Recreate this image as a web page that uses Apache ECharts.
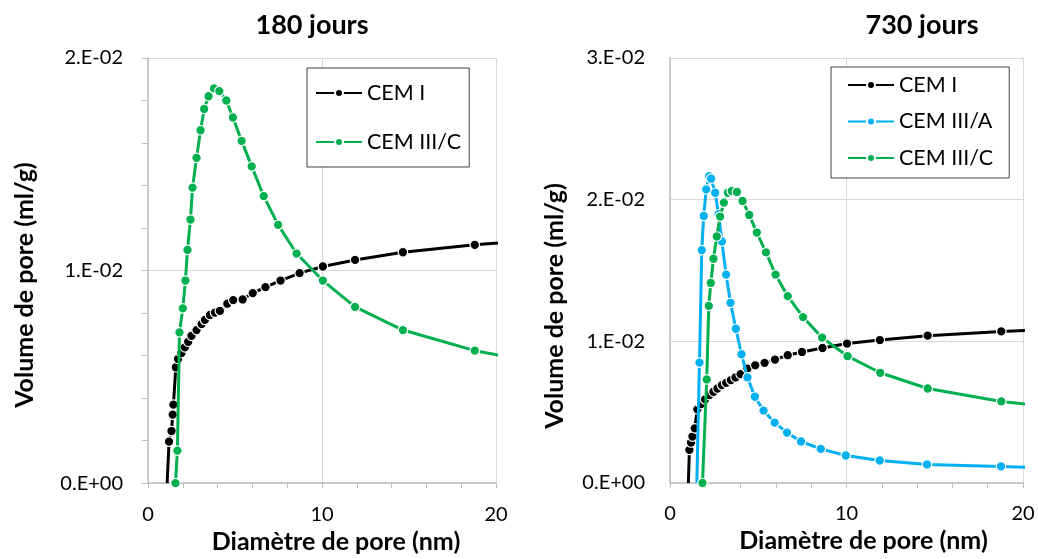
<!DOCTYPE html>
<html>
<head>
<meta charset="utf-8">
<script src="https://cdn.jsdelivr.net/npm/echarts@6/dist/echarts.min.js"></script>
<style>
html,body{margin:0;padding:0;background:#fff;}
#chart{width:1038px;height:559px;}
</style>
</head>
<body>
<div id="chart"></div>
<script>
// ---- Data ----
const titles = ["180 jours", "730 jours"];
const xAxisName = "Diamètre de pore (nm)";
const yAxisName = "Volume de pore (ml/g)";
const xTickLabels = ["0", "10", "20"];
const yTicksLeft = [0, 0.01, 0.02];
const yLabelsLeft = ["0.E+00", "1.E-02", "2.E-02"];
const yTicksRight = [0, 0.01, 0.02, 0.03];
const yLabelsRight = ["0.E+00", "1.E-02", "2.E-02", "3.E-02"];
const seriesNames = ["CEM I", "CEM III/A", "CEM III/C"];

// 180 jours
const left_CEMI = [[1.1,0],[1.21,0.00195],[1.35,0.00245],[1.42,0.00322],[1.46,0.00369],[1.6,0.00545],[1.73,0.00584],[1.92,0.00612],[2.12,0.00639],[2.31,0.00665],[2.5,0.00693],[2.79,0.0072],[3.08,0.00748],[3.27,0.00768],[3.56,0.00791],[3.85,0.00802],[4.13,0.0081],[4.56,0.00844],[4.9,0.00861],[5.44,0.00864],[6.02,0.00894],[6.75,0.00922],[7.62,0.00953],[8.71,0.00988],[10.05,0.01019],[11.9,0.0105],[14.65,0.01086],[18.78,0.01121],[23,0.01147]];
const left_CEMIIIC = [[1.58,0],[1.69,0.00153],[1.81,0.00709],[2.0,0.00822],[2.15,0.00953],[2.27,0.01097],[2.44,0.0124],[2.56,0.0139],[2.79,0.0153],[3.02,0.0166],[3.23,0.0176],[3.48,0.0182],[3.79,0.01857],[4.1,0.01844],[4.5,0.018],[4.88,0.0172],[5.38,0.0161],[5.96,0.0149],[6.65,0.0135],[7.48,0.01215],[8.54,0.0108],[10.05,0.00953],[11.9,0.00829],[14.65,0.0072],[18.78,0.00623],[23,0.0056]];

// 730 jours
const right_CEMI = [[1.04,0],[1.1,0.00234],[1.19,0.00286],[1.27,0.00328],[1.4,0.00386],[1.55,0.0052],[1.76,0.00557],[1.99,0.0059],[2.23,0.00621],[2.46,0.00644],[2.69,0.00667],[2.94,0.00691],[3.18,0.00707],[3.45,0.00726],[3.71,0.00745],[4.0,0.00768],[4.39,0.00808],[4.83,0.00831],[5.36,0.00848],[5.95,0.00871],[6.67,0.00902],[7.48,0.00925],[8.64,0.00953],[10.03,0.00984],[11.89,0.01009],[14.6,0.0104],[18.77,0.0107],[23,0.01091]];
const right_CEMIIIA = [[1.52,0],[1.67,0.0085],[1.8,0.01644],[1.91,0.01885],[2.05,0.02073],[2.22,0.02166],[2.33,0.02148],[2.56,0.02049],[2.75,0.01897],[2.94,0.01705],[3.18,0.01471],[3.43,0.01272],[3.73,0.01089],[4.05,0.00909],[4.39,0.00745],[4.81,0.00609],[5.3,0.00511],[5.93,0.00426],[6.63,0.00356],[7.42,0.00293],[8.54,0.00241],[9.96,0.00194],[11.88,0.00159],[14.56,0.00131],[18.75,0.00117],[23,0.00097]];
const right_CEMIIIC = [[1.84,0],[2.08,0.00731],[2.2,0.0125],[2.31,0.01412],[2.46,0.01583],[2.65,0.0174],[2.84,0.01881],[3.05,0.01979],[3.28,0.02049],[3.5,0.02061],[3.79,0.02054],[4.11,0.01991],[4.49,0.01892],[4.92,0.01768],[5.44,0.01628],[5.98,0.01471],[6.67,0.01319],[7.54,0.01171],[8.62,0.01026],[10.06,0.00895],[11.91,0.00778],[14.6,0.00667],[18.77,0.00576],[23,0.00519]];

// ---- Styling / building ----
const FONT = "Lato";
const colors = {"CEM I": "#000000", "CEM III/A": "#00B0F0", "CEM III/C": "#00B050"};
const GRID_COLOR = "#d9d9d9";
const AXIS_COLOR = "#bfbfbf";

function labelFrom(ticks, labels) {
  return function (v) {
    for (let i = 0; i < ticks.length; i++) {
      if (Math.abs(v - ticks[i]) < 1e-9) return labels[i];
    }
    return "";
  };
}
function xLabel(v) {
  const idx = Math.round(v / 10);
  return xTickLabels[idx] !== undefined ? xTickLabels[idx] : "";
}

function makeSeries(name, data, gridIdx, hideFirstMarker) {
  return {
    name: name,
    type: "line",
    xAxisIndex: gridIdx,
    yAxisIndex: gridIdx,
    data: data.map((p, i) => (i === 0 && hideFirstMarker) ? {value: p, symbol: "none"} : p),
    symbol: "circle",
    symbolSize: 9.5,
    showSymbol: true,
    clip: true,
    lineStyle: {color: colors[name], width: 3},
    itemStyle: {color: colors[name], borderColor: "#ffffff", borderWidth: 1.2},
    emphasis: {disabled: true},
    animation: false,
    z: name === "CEM I" ? 3 : (name === "CEM III/A" ? 4 : 5)
  };
}

function xAxisCfg(gridIdx, shift) {
  return {
    type: "value", gridIndex: gridIdx, min: 0, max: 20, interval: 10,
    axisLine: {show: true, onZero: false, lineStyle: {color: AXIS_COLOR, width: 1.5}},
    axisTick: {show: true, inside: false, length: 5, lineStyle: {color: AXIS_COLOR}},
    minorTick: {show: true, splitNumber: 5, length: 5, lineStyle: {color: AXIS_COLOR}},
    splitLine: {show: true, lineStyle: {color: GRID_COLOR, width: 1}},
    axisLabel: {formatter: xLabel, color: "#000", fontFamily: FONT, fontSize: 20, margin: 21},
    name: xAxisName, nameLocation: "middle", nameGap: 45,
    nameTextStyle: {fontFamily: FONT, fontWeight: "bold", fontSize: 25, color: "#000", padding: [0, 0, 0, shift]}
  };
}
function yAxisCfg(gridIdx, max, ticks, labels, minor, gap, shift) {
  return {
    type: "value", gridIndex: gridIdx, min: 0, max: max, interval: 0.01,
    axisLine: {show: true, lineStyle: {color: AXIS_COLOR, width: 1.5}},
    axisTick: {show: minor, inside: false, length: 6, lineStyle: {color: AXIS_COLOR}},
    minorTick: {show: minor, splitNumber: 5, length: 6, lineStyle: {color: AXIS_COLOR}},
    splitLine: {show: true, lineStyle: {color: GRID_COLOR, width: 1}},
    axisLabel: {formatter: labelFrom(ticks, labels), color: "#000", fontFamily: FONT, fontSize: 20, margin: 25},
    name: yAxisName, nameLocation: "middle", nameGap: gap, nameRotate: 90,
    nameTextStyle: {fontFamily: FONT, fontWeight: "bold", fontSize: 25, color: "#000", padding: [0, shift, 0, 0]}
  };
}

const legendText = {fontFamily: FONT, fontSize: 21.5, color: "#000", lineHeight: 22};

const chart = echarts.init(document.getElementById("chart"), null, {renderer: "canvas"});
const option = {
  animation: false,
  backgroundColor: "#ffffff",
  title: [
    {text: titles[0], left: 307, top: 7, textAlign: "center",
     textStyle: {fontFamily: FONT, fontWeight: "bold", fontSize: 27, color: "#000"}},
    {text: titles[1], left: 917, top: 7, textAlign: "center",
     textStyle: {fontFamily: FONT, fontWeight: "bold", fontSize: 27, color: "#000"}}
  ],
  grid: [
    {left: 148, top: 58, width: 348, height: 427},
    {left: 670, top: 58, width: 353, height: 425}
  ],
  xAxis: [xAxisCfg(0, 28), xAxisCfg(1, 34)],
  yAxis: [
    yAxisCfg(0, 0.02, yTicksLeft, yLabelsLeft, true, 111, 29),
    yAxisCfg(1, 0.03, yTicksRight, yLabelsRight, false, 103, 71)
  ],
  legend: [
    {
      data: [seriesNames[0], seriesNames[2]].map(n => ({name: n})),
      orient: "vertical", left: 307, top: 68,
      padding: [14, 8, 14, 8], itemGap: 27, itemWidth: 46, itemHeight: 10,
      borderColor: "#404040", borderWidth: 1, backgroundColor: "#fff",
      textStyle: legendText,
      selectedMode: false
    },
    {
      data: [seriesNames[0], seriesNames[1], seriesNames[2]].map(n => ({name: n})),
      orient: "vertical", left: 831, top: 67,
      padding: [7, 16, 9, 16], itemGap: 14.5, itemWidth: 46, itemHeight: 10,
      borderColor: "#404040", borderWidth: 1, backgroundColor: "#fff",
      textStyle: legendText,
      selectedMode: false
    }
  ],
  series: [
    makeSeries("CEM I", left_CEMI, 0, true),
    makeSeries("CEM III/C", left_CEMIIIC, 0, false),
    makeSeries("CEM I", right_CEMI, 1, true),
    makeSeries("CEM III/A", right_CEMIIIA, 1, true),
    makeSeries("CEM III/C", right_CEMIIIC, 1, false)
  ]
};
chart.setOption(option);
</script>
</body>
</html>
